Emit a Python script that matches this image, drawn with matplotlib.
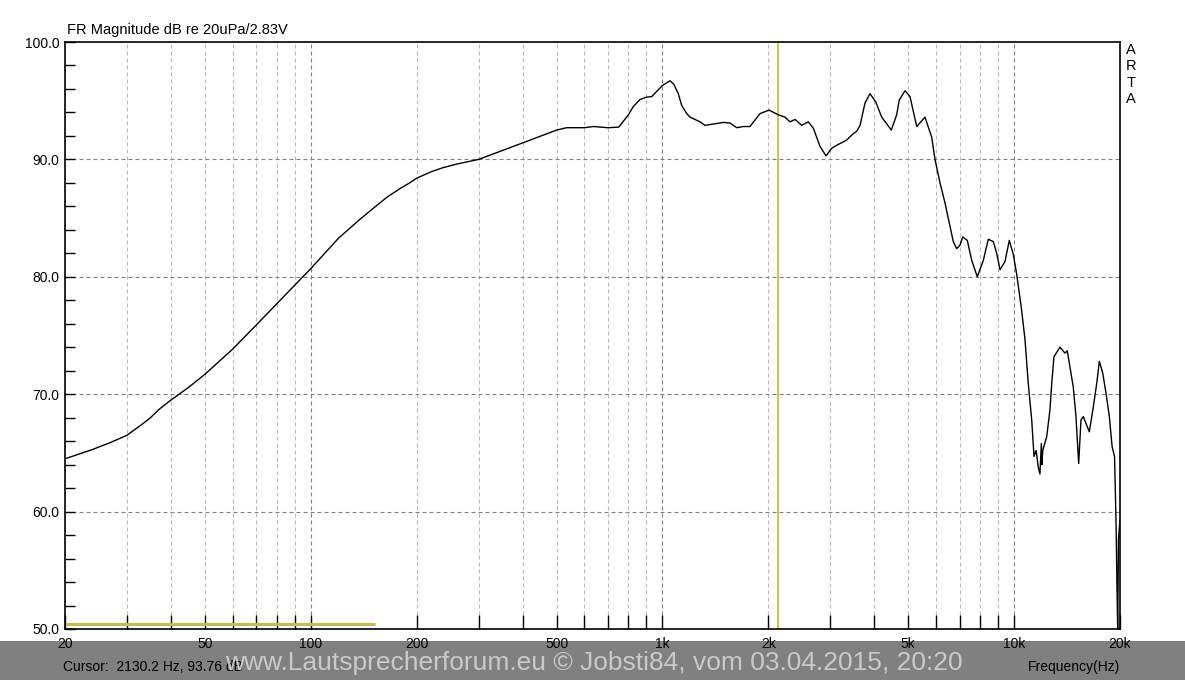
#########################################################################
# ARTA style frequency response plot (FR magnitude, 20 Hz - 20 kHz)     #
#########################################################################

import matplotlib
matplotlib.use("Agg")
import matplotlib.pyplot as plt
from matplotlib.patches import Rectangle
from matplotlib.ticker import FixedLocator, NullFormatter

plt.rcParams['font.family'] = ['Liberation Sans', 'DejaVu Sans']

freq = [20, 24, 27, 30, 33, 35, 37, 40, 45, 50, 60, 70, 80, 90, 100, 120, 138,
        150, 165, 179, 191, 200, 220, 238, 260, 300, 400, 500, 534, 600, 636,
        700, 751, 800, 826, 863, 900, 932, 1000, 1031, 1051, 1077, 1109, 1134,
        1172, 1198, 1279, 1321, 1489, 1556, 1626, 1698, 1773,
        1894, 2009, 2134, 2230, 2304, 2382, 2488, 2598, 2686, 2806, 2918,
        3028, 3128, 3342, 3489, 3568, 3646, 3766, 3892, 4040, 4202, 4474,
        4634, 4714, 4894, 5057, 5284, 5578, 5828, 5956, 6155, 6358, 6572,
        6714, 6864, 7015, 7141, 7359, 7574, 7857, 8172, 8444, 8724, 8922,
        9117, 9419, 9688, 9946, 10170, 10500, 10740, 10970, 11220, 11390,
        11550, 11710, 11840, 11950, 12000, 12060, 12380, 12640, 12790, 12980,
        13500, 13950, 14160, 14410, 14730, 14990, 15260, 15490, 15730, 16010,
        16360, 16790, 17170, 17470, 17860, 18250, 18650, 19000, 19300, 19400,
        19500, 19600, 19700, 19800, 20000]
spl = [64.5, 65.3, 65.9, 66.5, 67.4, 68.0, 68.7, 69.5, 70.6, 71.7, 73.85,
       75.9, 77.7, 79.3, 80.7, 83.3, 84.9, 85.8, 86.8, 87.5, 88.0, 88.4,
       88.95, 89.3, 89.6, 90.0, 91.4, 92.5, 92.7, 92.7, 92.8, 92.7, 92.75,
       93.8, 94.5, 95.1, 95.3, 95.35, 96.3, 96.55, 96.7, 96.4, 95.6, 94.6,
       93.9, 93.6, 93.2, 92.9, 93.15, 93.1, 92.7, 92.8, 92.8, 93.9, 94.2,
       93.8, 93.6, 93.2, 93.4, 92.9, 93.2, 92.65, 91.1, 90.3, 90.95, 91.2,
       91.65, 92.2, 92.4, 92.9, 94.8, 95.6, 94.9, 93.6, 92.5, 93.8, 95.06,
       95.85, 95.35, 92.8, 93.6, 91.9, 90.0, 88.0, 86.3, 84.3, 83.0, 82.4,
       82.7, 83.4, 83.1, 81.4, 80.0, 81.4, 83.2, 83.0, 82.0, 80.6, 81.3,
       83.1, 81.9, 80.2, 77.2, 74.6, 70.9, 67.8, 64.7, 65.2, 63.8, 63.2,
       65.8, 64.0, 65.2, 66.4, 68.65, 70.9, 73.2, 74.0, 73.5, 73.7, 72.3,
       70.6, 68.1, 64.1, 67.8, 68.1, 67.5, 66.8, 68.9, 70.9, 72.8, 71.8,
       70.1, 68.1, 65.5, 64.7, 61.8, 58.7, 53.9, 50.0, 57.6, 59.3]

# Axis labels
label_freqs = [20, 50, 100, 200, 500, 1000, 2000, 5000, 10000, 20000]
label_text = ["20", "50", "100", "200", "500", "1k", "2k", "5k", "10k", "20k"]
decades = [100, 1000, 10000]
grid_freqs = [m * d for d in [10, 100, 1000, 10000] for m in range(1, 10)
              if 20 < m * d < 20000]
db_ticks = [50, 60, 70, 80, 90, 100]

# Cursor and gate marker
cursor_freq = 2130.2
cursor_db = 93.76
gate_freq = [20, 152]
gate_db = [50.4, 50.4]

W, H = 1185, 680
fig = plt.figure(figsize=(W / 100, H / 100), dpi=100)
ax = fig.add_axes([65 / W, 1 - 629 / H, 1055 / W, 587 / H])

# gray footer band
fig.add_artist(Rectangle((0, 0), 1, 39 / H, transform=fig.transFigure,
                         facecolor="#808080", edgecolor="none", zorder=-1))

# grid
for f in grid_freqs:
    c = "#808080" if f in decades else "#b8b8b8"
    ax.axvline(f, color=c, lw=0.8, ls=(0, (3.6, 2.7)), zorder=1)
for d in db_ticks[1:-1]:
    ax.axhline(d, color="#808080", lw=0.8, ls=(0, (3.6, 2.7)), zorder=1)

# curve, cursor, gate
ax.plot(freq, spl, color="black", lw=1.0, zorder=3)
ax.axvline(cursor_freq, color="#c8c83c", lw=1.4, zorder=2)
ax.plot(gate_freq, gate_db, color="#c4bc50", lw=2.2, zorder=2,
        solid_capstyle="butt")

ax.set_xscale("log")
ax.set_xlim(20, 20000)
ax.set_ylim(50, 100)

ax.set_xticks(label_freqs, label_text)
ax.xaxis.set_minor_locator(FixedLocator([f for f in grid_freqs if f not in label_freqs]))
ax.xaxis.set_minor_formatter(NullFormatter())
ax.tick_params(axis="x", which="both", direction="in", length=10, width=1.0,
               pad=6, labelsize=10)

ax.set_yticks(db_ticks, ["%.1f" % d for d in db_ticks])
ax.yaxis.set_minor_locator(FixedLocator(list(range(52, 100, 2))))
ax.tick_params(axis="y", which="both", direction="in", length=7, width=1.0,
               pad=4, labelsize=10)

for s in ax.spines.values():
    s.set_linewidth(1.2)

# texts
fig.text(67 / W, 1 - 30 / H, "FR Magnitude dB re 20uPa/2.83V",
         ha="left", va="center", fontsize=10.5)
for i, ch in enumerate("ARTA"):
    fig.text(1131 / W, 1 - (50 + 16.3 * i) / H, ch, ha="center", va="center",
             fontsize=10.5)
fig.text(63 / W, 1 - 667 / H,
         "Cursor:  %.1f Hz, %.2f dB" % (cursor_freq, cursor_db),
         ha="left", va="center", fontsize=10)
fig.text(1120 / W, 1 - 667 / H, "Frequency(Hz)", ha="right", va="center",
         fontsize=10)
fig.text(594 / W, 1 - 663 / H,
         "www.Lautsprecherforum.eu \u00a9 Jobsti84, vom 03.04.2015, 20:20",
         ha="center", va="center", fontsize=19, color="#d2d2d2", alpha=0.9,
         zorder=5)

fig.savefig("out.png", dpi=100)
